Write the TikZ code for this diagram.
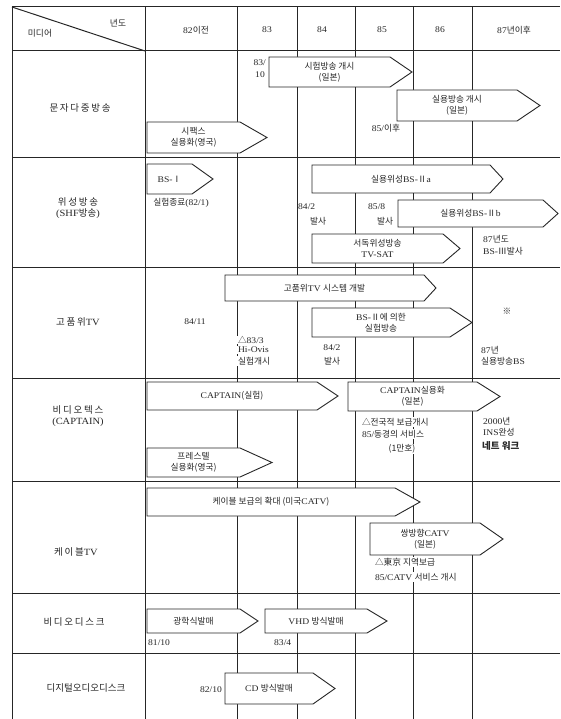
\documentclass[tikz,border=0pt]{standalone}
\usepackage{fontspec}
\setmainfont{Liberation Serif}[FakeStretch=1.1]
\newfontfamily\kr{Noto Sans CJK KR}
\newfontfamily\krs{Noto Sans CJK KR}[LetterSpace=18]
\newcommand\K[1]{{\kr #1}}
\newcommand\KS[1]{{\krs #1}}
% arrow box: name, x1, y1, y2, xbody, xtip, text
\newcommand\arr[7]{%
  \filldraw[arrowbox] (#2,#3) -- (#5,#3) -- (#6,{(#3+#4)/2}) -- (#5,#4) -- (#2,#4) -- cycle;
  \node[lbl] (#1) at ({(#2+#5)/2},{(#3+#4)/2}) {#7};}
\begin{document}
\begin{tikzpicture}[x=1pt,y=-1pt,
  grid/.style={line width=1pt, black!85},
  arrowbox/.style={draw=black!85, fill=white, line width=0.9pt},
  lbl/.style={font=\fontsize{8.7}{10.5}\selectfont, inner sep=0pt, align=center, text=black!85},
  note/.style={lbl, fill=white, inner sep=0.8pt},
  rowlbl/.style={font=\fontsize{9.5}{11.5}\selectfont, inner sep=0pt, align=center, text=black!85}]
\useasboundingbox (0,0) rectangle (560,719);
\fill[white] (0,0) rectangle (560,719);
% grid
\foreach \y in {7,51,158,267,378,481,593,653}
  \draw[grid] (12,\y) -- (560,\y);
\foreach \x in {12,145,237,297,355,413,472}
  \draw[grid] (\x,7) -- (\x,719);
\draw[grid] (12,7) -- (145,51);
% header
\node[lbl] (hy) at (118,23) {\K{년도}};
\node[lbl] (hm) at (40,33) {\K{미디어}};
\node[lbl] (c82) at (196,30) {82\K{이전}};
\node[lbl] (c83) at (267,30) {83};
\node[lbl] (c84) at (322,30) {84};
\node[lbl] (c85) at (382,30) {85};
\node[lbl] (c86) at (440,30) {86};
\node[lbl] (c87) at (514,30) {87\K{년이후}};
% row labels
\node[rowlbl] (r1) at (80,108) {\KS{문자다중방송}};
\node[rowlbl] (r2) at (78,208) {\KS{위성방송}\\(SHF\K{방송})};
\node[rowlbl] (r3) at (78,322) {\KS{고품위}TV};
\node[rowlbl] (r4) at (78,416) {\KS{비디오텍스}\\(CAPTAIN)};
\node[rowlbl] (r5) at (76,552) {\KS{케이블}TV};
\node[rowlbl] (r6) at (74,622) {\KS{비디오디스크}};
\node[rowlbl] (r7) at (86,688) {\K{디지털오디오디스크}};
% row 1
\arr{a1}{269}{57}{87}{390}{412}{\K{시험방송 개시}\\\K{(일본)}}
\arr{a2}{397}{90}{121}{517}{540}{\K{실용방송 개시}\\\K{(일본)}}
\arr{a3}{147}{122}{153}{240}{267}{\K{시팩스}\\\K{실용화(영국)}}
\node[lbl, anchor=east] (t8310a) at (266,63) {83/};
\node[lbl, anchor=east] (t8310b) at (265,75) {10};
\node[note] (t85) at (386,128) {85/\K{이후}};
% row 2
\arr{bs1}{147}{164}{194}{192}{213}{BS-\K{Ⅰ}}
\node[note] (t821) at (181,203) {\K{실험종료}(82/1)};
\arr{bs2a}{312}{165}{193}{490}{503}{\K{실용위성}BS-\K{Ⅱ}a}
\node[lbl, anchor=west] (t842) at (298,207) {84/2};
\node[lbl] (t842b) at (318,221) {\K{발사}};
\node[lbl, anchor=west] (t858) at (368,207) {85/8};
\node[lbl] (t858b) at (385,221) {\K{발사}};
\arr{bs2b}{398}{200}{227}{543}{558}{\K{실용위성}BS-\K{Ⅱ}b}
\arr{tvsat}{312}{234}{263}{443}{460}{\K{서독위성방송}\\TV-SAT}
\node[lbl, anchor=west] (t87a) at (483,239) {87\K{년도}};
\node[lbl, anchor=west] (t87b) at (483,251) {BS-\K{Ⅲ발사}};
% row 3
\node[lbl] (t8411) at (195,322) {84/11};
\arr{hd1}{225}{275}{301}{424}{436}{\K{고품위}TV \K{시스템 개발}}
\arr{hd2}{312}{308}{337}{450}{472}{BS-\K{Ⅱ에 의한}\\\K{실험방송}}
\node[note, anchor=west] (t833a) at (237,340) {\K{△}83/3};
\node[note, anchor=west] (t833b) at (237,350) {Hi-Ovis};
\node[note, anchor=west] (t833c) at (237,361) {\K{실험개시}};
\node[lbl] (t842c) at (332,348) {84/2};
\node[lbl] (t842d) at (332,361) {\K{발사}};
\node[lbl] (tstar) at (507,311) {\K{※}};
\node[lbl, anchor=west] (t87c) at (481,350) {87\K{년}};
\node[lbl, anchor=west] (t87d) at (481,361) {\K{실용방송}BS};
% row 4
\arr{cap1}{147}{382}{410}{317}{338}{CAPTAIN\K{(실험)}}
\arr{cap2}{348}{382}{411}{477}{500}{CAPTAIN\K{실용화}\\\K{(일본)}}
\node[note, anchor=west] (t85a) at (361,422) {\K{△전국적 보급개시}};
\node[note, anchor=west] (t85b) at (361,434) {85/\K{동경의 서비스}};
\node[note] (t85c) at (402,449) {\K{(1만호)}};
\node[lbl, anchor=west] (t2000a) at (483,421) {2000\K{년}};
\node[lbl, anchor=west] (t2000b) at (483,432) {INS\K{완성}};
\node[lbl, anchor=west, font=\fontsize{9.5}{10}\selectfont\bfseries] (t2000c) at (482,446) {\K{네트 워크}};
\arr{prestel}{147}{448}{477}{240}{272}{\K{프레스텔}\\\K{실용화(영국)}}
% row 5
\arr{catv1}{147}{488}{516}{395}{420}{\K{케이블 보급의 확대 (미국}CATV\K{)}}
\arr{catv2}{370}{523}{555}{480}{503}{\K{쌍방향}CATV\\\K{(일본)}}
\node[note, anchor=west] (t85d) at (374,562) {\K{△東京 지역보급}};
\node[note, anchor=west] (t85e) at (374,577) {85/CATV \K{서비스 개시}};
% row 6
\arr{vd1}{147}{609}{633}{240}{258}{\K{광학식발매}}
\node[lbl, anchor=west] (t8110) at (148,643) {81/10};
\arr{vhd}{265}{609}{633}{367}{387}{VHD \K{방식발매}}
\node[lbl, anchor=west] (t834) at (274,643) {83/4};
% row 7
\node[lbl] (t8210) at (211,690) {82/10};
\arr{cd}{225}{673}{704}{313}{335}{CD \K{방식발매}}
\end{tikzpicture}
\end{document}
